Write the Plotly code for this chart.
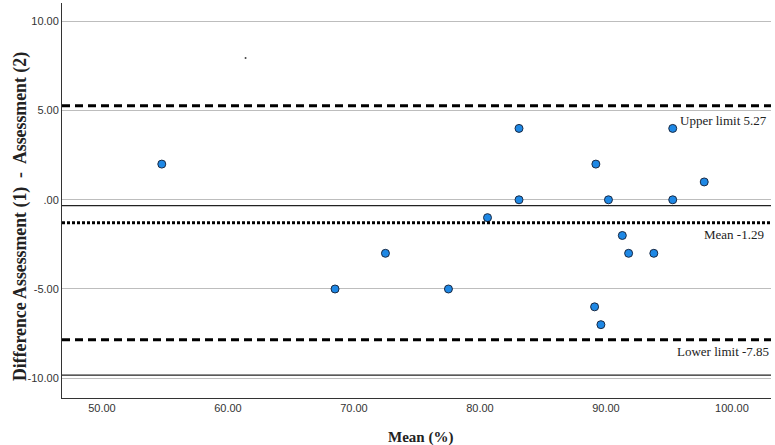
import plotly.graph_objects as go

# Data
mean_pct = [54.75, 68.5, 72.5, 77.5, 80.6, 83.1, 83.1, 89.2, 90.2, 95.3, 95.3, 97.8,
            91.3, 91.8, 93.8, 89.1, 89.6]
difference = [2, -5, -3, -5, -1, 4, 0, 2, 0, 4, 0, 1, -2, -3, -3, -6, -7]
artifact_x = [61.4]
artifact_y = [7.95]

mean_diff = -1.29
upper_limit = 5.27
lower_limit = -7.85
ref_lines = [-0.33, -9.83]

y_ticks = [10, 5, 0, -5, -10]
y_tick_text = ["10.00", "5.00", ".00", "-5.00", "-10.00"]
x_ticks = [50, 60, 70, 80, 90, 100]
x_tick_text = ["50.00", "60.00", "70.00", "80.00", "90.00", "100.00"]

serif = "Liberation Serif, Times New Roman, serif"
sans = "Liberation Sans, Arial, sans-serif"

fig = go.Figure()

for yv in ref_lines:
    fig.add_hline(y=yv, line=dict(color="#222222", width=1.2), layer="below")

fig.add_hline(y=upper_limit, line=dict(color="black", width=3, dash="8px,5px"))
fig.add_hline(y=lower_limit, line=dict(color="black", width=3, dash="8px,5px"))
fig.add_hline(y=mean_diff, line=dict(color="black", width=3, dash="3px,2px"))

fig.add_trace(go.Scatter(
    x=mean_pct, y=difference, mode="markers",
    marker=dict(size=8, color="#1E88E5", line=dict(color="#1a2a44", width=1)),
    showlegend=False, hoverinfo="x+y"))

fig.add_trace(go.Scatter(
    x=artifact_x, y=artifact_y, mode="markers",
    marker=dict(size=2, color="#444444"), showlegend=False, hoverinfo="skip"))

ann_font = dict(family=serif, size=13, color="#222222")
fig.add_annotation(x=1, xref="paper", xanchor="right", y=upper_limit, yref="y",
                   yshift=-15, text="Upper limit " + f"{upper_limit:.2f}", showarrow=False,
                   font=ann_font, xshift=-2)
fig.add_annotation(x=1, xref="paper", xanchor="right", y=mean_diff, yref="y",
                   yshift=-12, text="Mean " + f"{mean_diff:.2f}", showarrow=False,
                   font=ann_font, xshift=-5)
fig.add_annotation(x=1, xref="paper", xanchor="right", y=lower_limit, yref="y",
                   yshift=-12, text="Lower limit " + f"{lower_limit:.2f}", showarrow=False,
                   font=ann_font, xshift=0)

plot_w = 775 - 62 - 4
# axis titles
fig.add_annotation(x=(8 - 62) / plot_w, xref="paper", y=0.5, yref="paper", yshift=-16,
                   showarrow=False,
                   text="<b>Difference Assessment (1)  -  Assessment (2)</b>",
                   textangle=-90, font=dict(family=serif, size=17.8, color="#222222"))
fig.add_annotation(x=0.5, xref="paper", y=0, yref="paper", yanchor="middle",
                   yshift=-39, xshift=4, showarrow=False,
                   text="<b>Mean (%)</b>", font=dict(family=serif, size=15, color="#222222"))

fig.update_layout(
    width=775, height=445,
    margin=dict(l=62, r=4, t=3, b=47, autoexpand=False),
    paper_bgcolor="white", plot_bgcolor="white",
    xaxis=dict(range=[46.83, 103.1], tickvals=x_ticks, ticktext=x_tick_text,
               showgrid=False, zeroline=False, showline=True, linecolor="#333333",
               linewidth=1, ticks="", automargin=False,
               tickfont=dict(family=sans, size=11, color="#333333")),
    yaxis=dict(range=[-11.11, 11.03], tickvals=y_ticks, ticktext=y_tick_text,
               showgrid=True, gridcolor="#bdbdbd", gridwidth=1, zeroline=False,
               showline=True, linecolor="#333333", linewidth=1, ticks="", automargin=False,
               tickfont=dict(family=sans, size=11, color="#333333")),
)

fig.write_html("out.html", config={"displayModeBar": False},
               post_script="document.body.style.margin='0';")
